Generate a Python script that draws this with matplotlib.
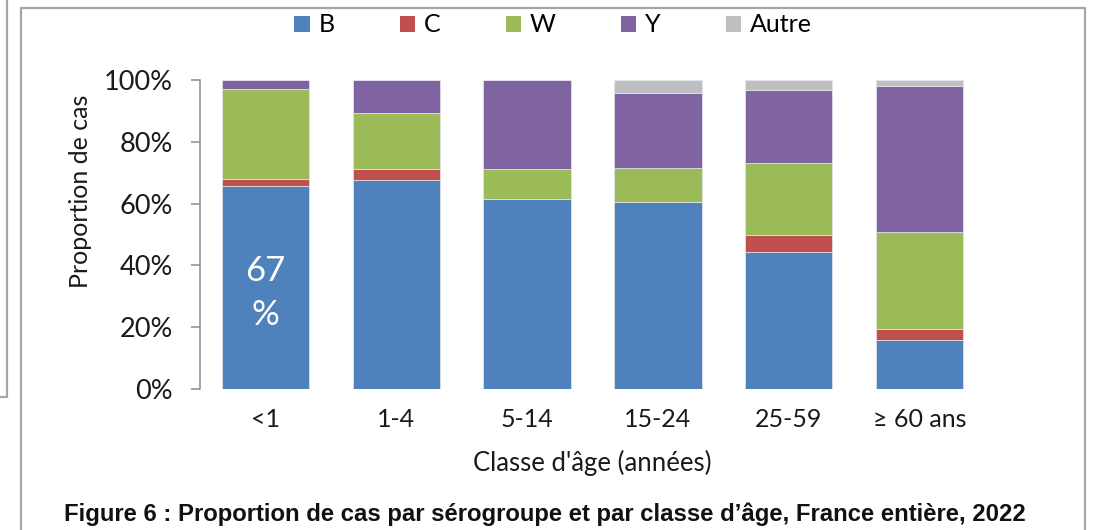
import matplotlib.pyplot as plt
from matplotlib.lines import Line2D
from matplotlib.patches import Patch
import numpy as np

# age classes and serogroup shares (%)
age_classes = ["<1", "1-4", "5-14", "15-24", "25-59", "\u2265 60 ans"]
serogroups = ["B", "C", "W", "Y", "Autre"]
share_B = [65.7, 67.7, 61.5, 60.5, 44.4, 16.0]
share_C = [2.3, 3.6, 0.0, 0.0, 5.4, 3.5]
share_W = [29.2, 17.9, 9.7, 11.1, 23.4, 31.3]
share_Y = [2.8, 10.8, 28.8, 24.1, 23.6, 47.2]
share_autre = [0.0, 0.0, 0.0, 4.3, 3.2, 2.0]
colors = ["#4F81BD", "#C0504D", "#9BBB59", "#8064A2", "#BFBFBF"]

FONT = "Lato"
GREY = "#8c8c8c"
TXT = "#1a1a1a"

fig = plt.figure(figsize=(10.94, 5.30), dpi=100)
ax = fig.add_axes([0.1828, 0.2660, 0.7176, 0.5830])

x = np.arange(len(age_classes))
bottom = np.zeros(len(age_classes))
for name, vals, col in zip(serogroups,
                           [share_B, share_C, share_W, share_Y, share_autre],
                           colors):
    vals = np.array(vals) / 100
    ax.bar(x, vals, 0.667, bottom=bottom, color=col,
           edgecolor="#e6e6f0", linewidth=0.5, label=name)
    bottom += vals

ax.set_xlim(-0.5, len(age_classes) - 0.5)
ax.set_ylim(0, 1)
ax.set_yticks(np.arange(0, 1.01, 0.2))
ax.set_yticklabels([f"{int(round(v * 100))}%" for v in np.arange(0, 1.01, 0.2)],
                   fontsize=19.5, family=FONT, color=TXT)
ax.set_xticks(x)
ax.set_xticklabels(age_classes, fontsize=18, family=FONT, color=TXT)
ax.tick_params(axis="y", direction="out", length=6.5, width=1.1, color=GREY, pad=13)
ax.tick_params(axis="x", length=0, pad=14)

for side in ["top", "right", "bottom"]:
    ax.spines[side].set_visible(False)
ax.spines["left"].set_color(GREY)
ax.spines["left"].set_linewidth(1.1)

ax.set_xlabel("Classe d'\u00e2ge (ann\u00e9es)", fontsize=18.5, family=FONT,
              color=TXT, labelpad=13)
fig.text(80 / 1094, 1 - 191 / 530, "Proportion de cas", rotation=90,
         ha="center", va="center", fontsize=18, family=FONT, color=TXT)

# in-bar annotation for the <1 year B share
ax.text(x[0], 0.31, "67\n%", ha="center", va="center", color="white",
        fontsize=25, family=FONT, linespacing=1.45)

handles = [Patch(facecolor=c, edgecolor="none") for c in colors]
fig.legend(handles, serogroups, loc="center", bbox_to_anchor=(553 / 1094, 1 - 25 / 530),
           ncol=5, frameon=False, prop={"family": FONT, "size": 18},
           handlelength=0.62, handleheight=0.62, handletextpad=0.35,
           columnspacing=2.6)

fig.text(545 / 1094, 1 - 514 / 530,
         "Figure 6 : Proportion de cas par s\u00e9rogroupe et par classe d\u2019\u00e2ge, France enti\u00e8re, 2022",
         ha="center", va="center", fontsize=17.2, fontweight="bold",
         family="Liberation Sans", color="#111111")

# page frames around the chart
W, H = 1094, 530
def frame_line(xs, ys):
    fig.add_artist(Line2D([v / W for v in xs], [1 - v / H for v in ys],
                          color="#a6a6a6", linewidth=1.6))

frame_line([20.7, 20.7, 1085, 1085], [535, 7.5, 7.5, 535])
frame_line([7.3, 7.3, -2], [-2, 397, 397])

fig.savefig("out.png", dpi=100)
